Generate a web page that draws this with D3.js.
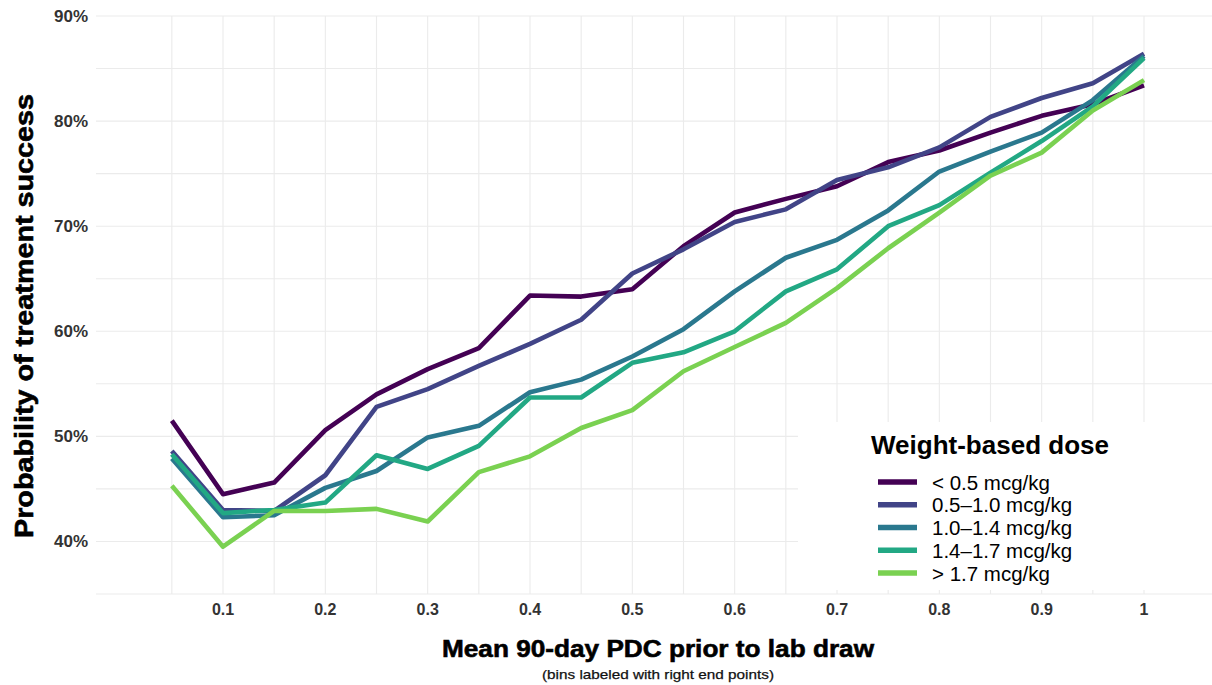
<!DOCTYPE html>
<html>
<head>
<meta charset="utf-8">
<script src="https://cdn.jsdelivr.net/npm/d3@7"></script>
<style>
  html, body { margin: 0; padding: 0; background: #fff; }
  svg { display: block; font-family: "Liberation Sans", Arial, sans-serif; }
</style>
</head>
<body>
<svg id="chart" width="1212" height="685"></svg>
<script>
// PDC bins (right end points)
const bins = [0.05, 0.10, 0.15, 0.20, 0.25, 0.30, 0.35, 0.40, 0.45, 0.50,
              0.55, 0.60, 0.65, 0.70, 0.75, 0.80, 0.85, 0.90, 0.95, 1.00];

// Dose groups
const doseGroups = ["< 0.5 mcg/kg", "0.5\u20131.0 mcg/kg", "1.0\u20131.4 mcg/kg",
                    "1.4\u20131.7 mcg/kg", "> 1.7 mcg/kg"];

// Probability of treatment success (%) per bin, by dose group
const doseLt05 = [51.5, 44.5, 45.6, 50.6, 54.0, 56.4, 58.4, 63.4, 63.3, 64.0,
                  68.1, 71.3, 72.6, 73.8, 76.1, 77.2, 78.9, 80.5, 81.6, 83.4];
const dose05to10 = [48.6, 43.0, 42.9, 46.3, 52.8, 54.5, 56.7, 58.8, 61.1, 65.5,
                    67.8, 70.4, 71.6, 74.4, 75.6, 77.5, 80.4, 82.2, 83.6, 86.4];
const dose10to14 = [47.9, 42.3, 42.5, 45.1, 46.7, 49.9, 51.0, 54.2, 55.4, 57.6,
                    60.2, 63.8, 67.0, 68.7, 71.5, 75.2, 77.1, 78.9, 82.0, 86.2];
const dose14to17 = [48.3, 42.7, 43.0, 43.7, 48.2, 46.9, 49.1, 53.7, 53.7, 57.0,
                    58.0, 60.0, 63.8, 65.9, 70.0, 72.0, 75.1, 78.1, 81.4, 86.0];
const doseGt17 = [45.3, 39.5, 42.9, 42.9, 43.1, 41.9, 46.6, 48.1, 50.8, 52.5,
                  56.2, 58.5, 60.8, 64.1, 67.9, 71.3, 74.8, 77.0, 81.0, 83.9];

// Axis ticks
const xTicks = [0.1, 0.2, 0.3, 0.4, 0.5, 0.6, 0.7, 0.8, 0.9, 1];
const xTickLabels = ["0.1", "0.2", "0.3", "0.4", "0.5", "0.6", "0.7", "0.8", "0.9", "1"];
const yTicks = [40, 50, 60, 70, 80, 90];
const yTickLabels = ["40%", "50%", "60%", "70%", "80%", "90%"];
const yGrid = [35, 40, 45, 50, 55, 60, 65, 70, 75, 80, 85, 90];

const seriesValues = [doseLt05, dose05to10, dose10to14, dose14to17, doseGt17];
const palette = ["#440154", "#414487", "#2A788E", "#22A884", "#7AD151"];

const svg = d3.select("#chart");

const panel = { left: 96, right: 1212, top: 16, bottom: 594 };

const x = d3.scaleLinear().domain([0.1, 1.0]).range([223, 1144]);
const y = d3.scaleLinear().domain([35, 90]).range([panel.bottom, panel.top]);

// Grid
const grid = svg.append("g").attr("stroke", "#ebebeb").attr("stroke-width", 1.1);
grid.selectAll("line.h").data(yGrid).join("line")
  .attr("class", "h")
  .attr("x1", panel.left).attr("x2", panel.right)
  .attr("y1", d => y(d)).attr("y2", d => y(d));
grid.selectAll("line.v").data(bins).join("line")
  .attr("class", "v")
  .attr("x1", d => x(d)).attr("x2", d => x(d))
  .attr("y1", panel.top).attr("y2", panel.bottom);

// Series lines
const line = d3.line()
  .x((d, i) => x(bins[i]))
  .y(d => y(d));

svg.append("g").selectAll("path").data(seriesValues).join("path")
  .attr("d", d => line(d))
  .attr("fill", "none")
  .attr("stroke", (d, i) => palette[i])
  .attr("stroke-width", 4.6)
  .attr("stroke-linejoin", "round")
  .attr("stroke-linecap", "butt");

// Y axis labels
svg.append("g").selectAll("text").data(yTicks).join("text")
  .attr("x", 88).attr("y", d => y(d))
  .attr("text-anchor", "end")
  .attr("dominant-baseline", "central")
  .attr("font-size", 16).attr("font-weight", "bold")
  .attr("fill", "#333")
  .attr("textLength", 34).attr("lengthAdjust", "spacingAndGlyphs")
  .text((d, i) => yTickLabels[i]);

// X axis labels
svg.append("g").selectAll("text").data(xTicks).join("text")
  .attr("x", d => x(d)).attr("y", 615)
  .attr("text-anchor", "middle")
  .attr("font-size", 16).attr("font-weight", "bold")
  .attr("fill", "#333")
  .text((d, i) => xTickLabels[i]);

// Axis titles
svg.append("text")
  .attr("x", 658).attr("y", 657)
  .attr("text-anchor", "middle")
  .attr("font-size", 24).attr("font-weight", "bold")
  .attr("fill", "#000").attr("stroke", "#000").attr("stroke-width", 0.6)
  .attr("textLength", 432).attr("lengthAdjust", "spacingAndGlyphs")
  .text("Mean 90-day PDC prior to lab draw");

svg.append("text")
  .attr("x", 658).attr("y", 679)
  .attr("text-anchor", "middle")
  .attr("font-size", 13)
  .attr("fill", "#111").attr("stroke", "#111").attr("stroke-width", 0.25)
  .attr("textLength", 232).attr("lengthAdjust", "spacingAndGlyphs")
  .text("(bins labeled with right end points)");

svg.append("text")
  .attr("transform", "translate(33,316) rotate(-90)")
  .attr("text-anchor", "middle")
  .attr("font-size", 25).attr("font-weight", "bold")
  .attr("fill", "#000").attr("stroke", "#000").attr("stroke-width", 0.6)
  .attr("textLength", 444).attr("lengthAdjust", "spacingAndGlyphs")
  .text("Probability of treatment success");

// Legend
const legend = svg.append("g");
legend.append("rect")
  .attr("x", 798).attr("y", 422).attr("width", 414).attr("height", 168)
  .attr("fill", "#fff");
legend.append("text")
  .attr("x", 871).attr("y", 454)
  .attr("font-size", 25).attr("font-weight", "bold")
  .attr("fill", "#000")
  .attr("textLength", 238).attr("lengthAdjust", "spacingAndGlyphs")
  .text("Weight-based dose");

const rowY = d3.scalePoint().domain(doseGroups).range([482, 573]);
const rows = legend.selectAll("g.row").data(doseGroups).join("g").attr("class", "row");
rows.append("line")
  .attr("x1", 878).attr("x2", 917)
  .attr("y1", d => rowY(d)).attr("y2", d => rowY(d))
  .attr("stroke", (d, i) => palette[i])
  .attr("stroke-width", 5.5);
rows.append("text")
  .attr("x", 932).attr("y", d => rowY(d))
  .attr("dominant-baseline", "central")
  .attr("font-size", 20.5)
  .attr("fill", "#000")
  .text(d => d);
</script>
</body>
</html>
